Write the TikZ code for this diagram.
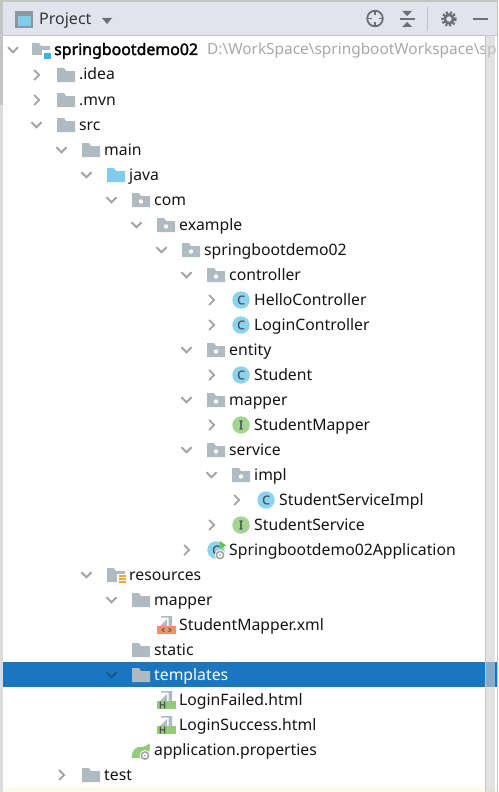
\documentclass[tikz,border=0pt]{standalone}
\usepackage{fontspec}
\setmainfont{Noto Sans}
\newfontfamily\fakebold[FakeBold=2]{Noto Sans}
\newfontfamily\semibold[FakeBold=1]{Noto Sans}
\definecolor{hdr}{HTML}{E1E4EC}
\definecolor{edge}{HTML}{C4C4C4}
\definecolor{fold}{HTML}{AFBAC1}
\definecolor{chv}{HTML}{A3A3A3}
\definecolor{sel}{HTML}{1A76BF}
\definecolor{seldark}{HTML}{14568A}
\definecolor{jblue}{HTML}{7FCDEA}
\definecolor{clsc}{HTML}{8BD3EE}
\definecolor{ifc}{HTML}{A4D590}
\definecolor{ink}{HTML}{4A5056}
\definecolor{txt}{HTML}{141414}
\definecolor{orng}{HTML}{F58F66}
\definecolor{grn}{HTML}{93CB78}
\definecolor{tool}{HTML}{6B7075}
\definecolor{pathgray}{HTML}{A8A8A8}
\definecolor{rootblue}{HTML}{39B4E4}
\definecolor{paleyel}{HTML}{FCFBE8}
\definecolor{scrollbg}{HTML}{D0D0D0}
\definecolor{wintile}{HTML}{8C979F}
\definecolor{resbar}{HTML}{E5A84B}
\definecolor{runarrow}{HTML}{6CC04A}
\tikzset{
 rowtext/.style={anchor=base west,inner sep=0pt,font=\fontsize{15.75}{18}\selectfont,text=txt},
 chev/.style={draw=chv,line width=1.9pt,fill=none},
 toolline/.style={draw=tool,line width=1.8pt},
 glyph/.style={inner sep=0pt,font=\fontsize{12}{13}\semibold,text=ink}
}
\newcommand{\foldshape}[3]{\fill[#3] (#1,#2-7) -- ++(7,0) -- ++(2,3) -- ++(9,0) -- (#1+18,#2+7) -- (#1,#2+7) -- cycle;}
\newcommand{\icfolder}[2]{\foldshape{#1}{#2}{fold}}
\newcommand{\icpackage}[2]{\foldshape{#1}{#2}{fold}\fill[white] (#1+9,#2+1.5) circle (2.2);}
\newcommand{\icjava}[2]{\foldshape{#1}{#2}{jblue}}
\newcommand{\iccirc}[4]{\fill[#3] (#1+9,#2) circle (8.7);\node[glyph] at (#1+9,#2) {#4};}
\newcommand{\icclass}[2]{\iccirc{#1}{#2}{clsc}{C}}
\newcommand{\icinter}[2]{\iccirc{#1}{#2}{ifc}{I}}
\newcommand{\icres}[2]{\foldshape{#1}{#2}{fold}\fill[white] (#1+10,#2-1) rectangle (#1+20,#2+9);
 \foreach \dy in {0,3,6}{\fill[resbar] (#1+12,#2+\dy) rectangle (#1+19,#2+\dy+2);}}
\newcommand{\icfile}[2]{\fill[fold] (#1+3,#2+1) -- (#1+10,#2-6) -- (#1+10,#2+1) -- cycle;
 \fill[fold] (#1+4,#2-9) -- (#1+15,#2-9) -- (#1+15,#2+1) -- (#1+11.5,#2+1) -- (#1+11.5,#2-7.5) -- (#1+4,#2-7.5) -- cycle;}
\newcommand{\icxml}[2]{\icfile{#1}{#2}\fill[orng] (#1,#2+1) rectangle (#1+19,#2+9);
 \draw[ink,line width=.8pt] (#1+7.5,#2+3) -- (#1+5,#2+5) -- (#1+7.5,#2+7) (#1+11.5,#2+3) -- (#1+14,#2+5) -- (#1+11.5,#2+7);}
\newcommand{\ichtml}[2]{\icfile{#1}{#2}\fill[grn] (#1,#2+1) rectangle (#1+19,#2+9);
 \node[glyph,font=\fontsize{9.5}{10}\semibold] at (#1+5.5,#2+5) {H};}
\newcommand{\gearb}[2]{\fill[white] (#1,#2) circle (5.4);\draw[fill=none,draw=chv,line width=1.6pt] (#1,#2) circle (3.6);\fill[chv] (#1,#2) circle (1);}
\newcommand{\icapp}[2]{\iccirc{#1}{#2}{clsc}{C}\fill[runarrow] (#1+13,#2-9) -- (#1+19,#2-4.5) -- (#1+13,#2-1) -- cycle;\gearb{#1+13}{#2+5}}
\newcommand{\icspring}[2]{\fill[grn] (#1,#2+8) .. controls (#1-1,#2) and (#1+5,#2-4) .. (#1+9,#2-3) .. controls (#1+13,#2-3) and (#1+16,#2-5) .. (#1+17,#2-7) .. controls (#1+20,#2) and (#1+16,#2+7) .. (#1+10,#2+8) -- cycle;\gearb{#1+13}{#2+5.5}}
\newcommand{\icroot}[2]{\fill[fold] (#1,#2-7) -- ++(7,0) -- ++(2,3) -- ++(9,0) -- (#1+18,#2+5) -- (#1,#2+5) -- cycle;
 \fill[white] (#1+10,#2+0.5) rectangle (#1+20,#2+10);\fill[rootblue] (#1+12,#2+3) rectangle (#1+19,#2+9);}
\newcommand{\chevd}[2]{\draw[chev] (#1-5,#2-2.8) -- (#1,#2+2.2) -- (#1+5,#2-2.8);}
\newcommand{\chevr}[2]{\draw[chev] (#1-2.4,#2-5) -- (#1+2.6,#2) -- (#1-2.4,#2+5);}
\newcommand{\chevn}[2]{}
% id, left, y, chevron (d/r/n), icon, text
\newcommand{\treerow}[6]{%
 \csname chev#4\endcsname{#2-20.5}{#3}%
 \csname ic#5\endcsname{#2}{#3}%
 \node[rowtext] (#1) at (#2+22,#3+5) {#6};}
\begin{document}
\begin{tikzpicture}[x=1pt,y=-1pt]
\useasboundingbox (0,0) rectangle (498,792);
\fill[white] (0,0) rectangle (498,792);
% frame
\fill[hdr] (0,0) rectangle (498,35);
\fill[edge] (0,0) rectangle (498,2);
\fill[edge] (0,35) rectangle (498,36);
\fill[edge!60] (0,0) rectangle (3,792);
\fill[edge] (0,0) rectangle (3,105);
\fill[paleyel] (3,787) rectangle (498,792);
% header
\fill[wintile] (15,11) rectangle (33,28);
\fill[jblue] (18,16) rectangle (31,26);
\node[rowtext,font=\fontsize{16}{18}\selectfont,text=txt!85] (proj) at (39,25) {Project};
\fill[tool] (102,18) -- (112,18) -- (107,24) -- cycle;
\draw[toolline] (375,18.5) circle (7.8);
\draw[toolline] (375,10.5) -- (375,15) (375,22) -- (375,26.5) (367,18.5) -- (371.5,18.5) (378.5,18.5) -- (383,18.5);
\draw[toolline] (400,19) -- (415,19);
\fill[tool] (402,11) -- (412,11) -- (407,16) -- cycle;
\fill[tool] (402,27) -- (412,27) -- (407,22) -- cycle;
\fill[edge] (427,7) rectangle (428,31);
\draw[draw=tool,line width=3.5pt,dash pattern=on 2pt off 1.6pt] (449,19) circle (6);
\draw[draw=tool,line width=2.6pt] (449,19) circle (4.2);
\draw[draw=tool,line width=2.2pt] (473,19) -- (488,19);
% selection
\fill[sel] (3,662) rectangle (497,687);
% rows
\chevd{13}{50}
\icroot{32}{50}
\node[rowtext,font=\fontsize{15.9}{18}\fakebold,text=black] (root) at (54,55) {springbootdemo02};
\node[rowtext,font=\fontsize{15.4}{18}\selectfont,text=pathgray] (rootpath) at (207,55) {D:\textbackslash WorkSpace\textbackslash springbootWorkspace\textbackslash sp};
\treerow{idea}{57}{75}{r}{folder}{.idea}
\treerow{mvn}{57}{100}{r}{folder}{.mvn}
\treerow{src}{57}{125}{d}{folder}{src}
\treerow{main}{82}{150}{d}{folder}{main}
\treerow{java}{107}{175}{d}{java}{java}
\treerow{com}{132}{200}{d}{package}{com}
\treerow{example}{157}{225}{d}{package}{example}
\treerow{sbd}{182}{250}{d}{package}{springbootdemo02}
\treerow{controller}{207}{275}{d}{package}{controller}
\treerow{hello}{232}{300}{r}{class}{HelloController}
\treerow{login}{232}{325}{r}{class}{LoginController}
\treerow{entity}{207}{350}{d}{package}{entity}
\treerow{student}{232}{375}{r}{class}{Student}
\treerow{mapperp}{207}{400}{d}{package}{mapper}
\treerow{smapper}{232}{425}{r}{inter}{StudentMapper}
\treerow{service}{207}{450}{d}{package}{service}
\treerow{impl}{232}{475}{d}{package}{impl}
\treerow{ssi}{257}{500}{r}{class}{StudentServiceImpl}
\treerow{ss}{232}{525}{r}{inter}{StudentService}
\treerow{app}{207}{550}{r}{app}{Springbootdemo02Application}
\treerow{resources}{107}{575}{d}{res}{resources}
\treerow{mapperr}{132}{600}{d}{folder}{mapper}
\treerow{xml}{157}{625}{n}{xml}{StudentMapper.xml}
\treerow{static}{132}{650}{n}{folder}{static}
\draw[chev,draw=seldark] (106.5,672.2) -- (111.5,677.2) -- (116.5,672.2);
\icfolder{132}{675}
\node[rowtext,text=white] (templates) at (154,680) {templates};
\treerow{failed}{157}{700}{n}{html}{LoginFailed.html}
\treerow{success}{157}{725}{n}{html}{LoginSuccess.html}
\treerow{props}{132}{750}{n}{spring}{application.properties}
\treerow{test}{82}{775}{r}{folder}{test}
% translucent scrollbar over the rows
\fill[scrollbg,fill opacity=.6] (485.5,35) rectangle (495,792);
\fill[edge] (485,35) rectangle (486,792);
\fill[edge] (497,0) rectangle (498,792);
\end{tikzpicture}
\end{document}
